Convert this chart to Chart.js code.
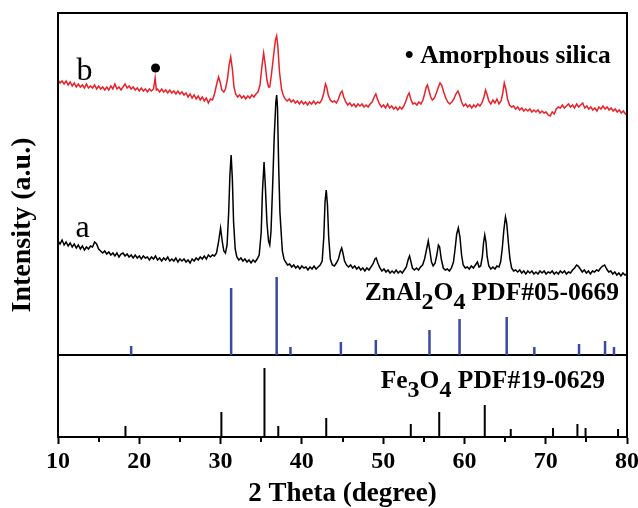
<!DOCTYPE html>
<html>
<head>
<meta charset="utf-8">
<script src="https://cdn.jsdelivr.net/npm/chart.js@4.4.1/dist/chart.umd.min.js"></script>
<style>
html,body{margin:0;padding:0;background:#fff;}
canvas{display:block;}
</style>
</head>
<body>
<canvas id="c" width="638" height="508"></canvas>
<script>
// ---------- DATA ----------
const xTicks = [10, 20, 30, 40, 50, 60, 70, 80];
const xMinorTicks = [15, 25, 35, 45, 55, 65, 75];

// Sample a (black) : [2theta, intensity (offset a.u.)]
const traceA = [
[10.0,196],[10.25,193],[10.5,197],[10.75,192],[11.0,195],[11.25,191],[11.5,194],[11.75,190],[12.0,193],[12.25,189],
[12.5,192],[12.75,188],[13.0,191],[13.25,187],[13.5,190],[13.75,188],[14.0,191],[14.25,190],[14.5,195],[14.75,193],
[15.0,188],[15.25,186],[15.5,184],[15.75,186],[16.0,183],[16.25,185],[16.5,182],[16.75,184],[17.0,181],[17.25,184],
[17.5,180],[17.75,183],[18.0,184],[18.25,181],[18.5,183],[18.75,180],[19.0,182],[19.25,179],[19.5,182],[19.75,179],
[20.0,181],[20.25,178],[20.5,181],[20.75,179],[21.0,180],[21.25,177],[21.5,180],[21.75,178],[22.0,181],[22.25,177],
[22.5,179],[22.75,176],[23.0,179],[23.25,177],[23.5,180],[23.75,176],[24.0,178],[24.25,176],[24.5,179],[24.75,175],
[25.0,178],[25.25,176],[25.5,178],[25.75,175],[26.0,177],[26.25,174],[26.5,178],[26.75,176],[27.0,179],[27.25,177],
[27.5,180],[27.75,178],[28.0,181],[28.25,178],[28.5,182],[28.75,180],[29.0,182],[29.25,181],[29.5,184],[29.75,195],
[30.0,209],[30.2,196],[30.4,186],[30.6,184],[30.8,192],[31.0,225],[31.15,262],[31.3,282],[31.45,258],[31.6,215],
[31.8,188],[32.0,180],[32.25,177],[32.5,179],[32.75,176],[33.0,178],[33.25,175],[33.5,177],[33.75,174],[34.0,177],
[34.25,175],[34.5,178],[34.75,182],[35.0,205],[35.15,245],[35.35,275],[35.5,252],[35.7,215],[35.9,196],[36.05,192],
[36.2,205],[36.4,250],[36.6,300],[36.8,335],[36.9,342],[37.0,330],[37.15,270],[37.3,225],[37.45,205],[37.6,186],
[37.8,178],[38.0,175],[38.25,172],[38.5,173],[38.75,170],[39.0,172],[39.25,169],[39.5,171],[39.75,168],[40.0,171],
[40.25,169],[40.5,170],[40.75,167],[41.0,170],[41.25,168],[41.5,171],[41.75,168],[42.0,170],[42.25,172],[42.5,176],
[42.7,200],[42.85,235],[43.0,247],[43.15,232],[43.3,200],[43.5,178],[43.75,172],[44.0,171],[44.25,174],[44.5,178],
[44.75,186],[44.9,189],[45.05,184],[45.25,176],[45.5,172],[45.75,170],[46.0,172],[46.25,169],[46.5,171],[46.75,168],
[47.0,170],[47.25,167],[47.5,169],[47.75,166],[48.0,169],[48.25,167],[48.5,170],[48.75,173],[49.0,178],[49.15,179],
[49.35,174],[49.6,169],[49.85,166],[50.1,168],[50.35,165],[50.6,167],[50.85,164],[51.1,166],[51.35,164],[51.6,167],
[51.85,164],[52.1,166],[52.35,164],[52.6,167],[52.85,170],[53.1,178],[53.25,181],[53.4,176],[53.6,169],[53.85,167],
[54.1,169],[54.35,167],[54.6,170],[54.85,172],[55.1,178],[55.35,188],[55.55,196],[55.75,186],[55.95,175],[56.15,171],
[56.4,174],[56.6,182],[56.8,192],[56.95,190],[57.15,178],[57.4,169],[57.65,167],[57.9,168],[58.15,166],[58.4,169],
[58.65,175],[58.85,188],[59.05,203],[59.25,209],[59.45,200],[59.65,182],[59.85,172],[60.1,169],[60.35,170],[60.6,168],
[60.85,171],[61.1,169],[61.35,172],[61.6,175],[61.8,170],[62.0,171],[62.2,180],[62.35,194],[62.5,202],[62.65,195],
[62.8,180],[63.0,171],[63.25,168],[63.5,170],[63.75,168],[64.0,171],[64.25,170],[64.45,175],[64.65,188],[64.85,207],
[65.05,220],[65.2,214],[65.4,195],[65.6,178],[65.8,169],[66.05,166],[66.3,167],[66.55,165],[66.8,167],[67.05,164],
[67.3,166],[67.55,163],[67.8,166],[68.05,164],[68.3,166],[68.55,163],[68.8,165],[69.05,163],[69.3,166],[69.55,164],
[69.8,166],[70.05,163],[70.3,165],[70.55,164],[70.8,166],[71.05,163],[71.3,165],[71.55,163],[71.8,166],[72.05,164],
[72.3,166],[72.55,163],[72.8,165],[73.05,164],[73.3,167],[73.55,169],[73.8,172],[74.0,171],[74.25,168],[74.5,165],
[74.75,167],[75.0,164],[75.25,166],[75.5,163],[75.75,166],[76.0,165],[76.25,167],[76.5,166],[76.75,169],[77.0,171],
[77.25,172],[77.5,168],[77.75,165],[78.0,166],[78.25,163],[78.5,165],[78.75,162],[79.0,164],[79.25,161],[79.5,164],
[79.75,162],[80.0,163]
];

// Sample b (red)
const traceB = [
[10.0,357],[10.25,354],[10.5,356],[10.75,353],[11.0,356],[11.25,352],[11.5,355],[11.75,351],[12.0,354],[12.25,350],
[12.5,353],[12.75,350],[13.0,352],[13.25,349],[13.5,353],[13.75,349],[14.0,351],[14.25,349],[14.5,352],[14.75,348],
[15.0,351],[15.25,348],[15.5,350],[15.75,347],[16.0,350],[16.25,347],[16.5,351],[16.75,348],[17.0,353],[17.25,348],
[17.5,350],[17.75,347],[18.0,350],[18.25,353],[18.5,349],[18.75,351],[19.0,348],[19.25,350],[19.5,347],[19.75,349],
[20.0,346],[20.25,349],[20.5,346],[20.75,348],[21.0,345],[21.25,348],[21.5,346],[21.75,348],[21.95,359],[22.1,347],
[22.25,348],[22.5,345],[22.75,348],[23.0,345],[23.25,347],[23.5,344],[23.75,347],[24.0,344],[24.25,346],[24.5,343],
[24.75,346],[25.0,343],[25.25,345],[25.5,342],[25.75,344],[26.0,340],[26.25,343],[26.5,339],[26.75,342],[27.0,338],
[27.25,341],[27.5,337],[27.75,340],[28.0,336],[28.25,339],[28.5,334],[28.75,338],[29.0,337],[29.25,343],[29.5,352],
[29.75,360],[29.95,355],[30.15,347],[30.4,345],[30.6,348],[30.85,358],[31.05,372],[31.25,380],[31.45,368],[31.65,350],
[31.85,343],[32.1,340],[32.35,342],[32.6,339],[32.85,341],[33.1,338],[33.35,341],[33.6,339],[33.85,342],[34.1,340],
[34.35,343],[34.6,345],[34.85,352],[35.05,368],[35.3,384],[35.5,372],[35.7,357],[35.9,350],[36.05,350],[36.25,362],
[36.5,380],[36.75,397],[36.9,401],[37.05,390],[37.25,365],[37.5,348],[37.7,342],[37.95,338],[38.2,336],[38.45,338],
[38.7,335],[38.95,337],[39.2,334],[39.45,336],[39.7,333],[39.95,336],[40.2,333],[40.45,335],[40.7,332],[40.95,335],
[41.2,333],[41.45,336],[41.7,333],[41.95,335],[42.2,334],[42.45,337],[42.7,344],[42.9,353],[43.05,350],[43.25,342],
[43.5,337],[43.75,335],[44.0,336],[44.25,334],[44.5,338],[44.75,344],[44.95,346],[45.15,340],[45.4,335],[45.65,332],
[45.9,334],[46.15,331],[46.4,333],[46.65,330],[46.9,333],[47.15,331],[47.4,333],[47.65,330],[47.9,332],[48.15,330],
[48.4,333],[48.65,335],[48.9,340],[49.1,343],[49.3,338],[49.55,333],[49.8,330],[50.05,332],[50.3,329],[50.55,333],
[50.8,329],[51.05,331],[51.3,328],[51.55,330],[51.8,327],[52.05,330],[52.3,328],[52.55,331],[52.8,336],[53.0,341],
[53.2,344],[53.4,338],[53.65,333],[53.9,334],[54.15,332],[54.4,335],[54.65,333],[54.9,337],[55.1,343],[55.3,350],
[55.45,352],[55.65,346],[55.85,340],[56.05,337],[56.3,339],[56.55,344],[56.8,350],[57.0,354],[57.2,352],[57.45,345],
[57.7,339],[57.95,335],[58.2,333],[58.45,335],[58.7,338],[58.95,343],[59.2,346],[59.4,342],[59.65,335],[59.9,331],
[60.15,333],[60.4,330],[60.65,332],[60.9,329],[61.15,332],[61.4,330],[61.65,333],[61.9,331],[62.15,334],[62.4,340],
[62.6,347],[62.8,342],[63.0,336],[63.25,333],[63.5,337],[63.75,334],[64.0,338],[64.25,333],[64.5,336],[64.7,343],
[64.9,354],[65.1,348],[65.3,338],[65.55,332],[65.8,330],[66.05,331],[66.3,328],[66.55,330],[66.8,327],[67.05,329],
[67.3,326],[67.55,328],[67.8,326],[68.05,328],[68.3,325],[68.55,327],[68.8,325],[69.05,327],[69.3,324],[69.55,326],
[69.8,324],[70.05,325],[70.3,322],[70.55,321],[70.8,325],[71.05,323],[71.3,328],[71.55,330],[71.8,329],[72.05,332],
[72.3,329],[72.55,331],[72.8,333],[73.05,330],[73.3,332],[73.55,329],[73.8,333],[74.05,330],[74.3,332],[74.55,334],
[74.8,329],[75.05,331],[75.3,328],[75.55,330],[75.8,327],[76.05,329],[76.3,326],[76.55,330],[76.8,328],[77.05,331],
[77.3,328],[77.55,330],[77.8,327],[78.05,329],[78.3,326],[78.55,328],[78.8,325],[79.05,327],[79.3,324],[79.55,326],
[79.8,323],[80.0,324]
];

// ZnAl2O4 PDF#05-0669 reference lines
const znPos = [19.0, 31.3, 36.9, 38.6, 44.8, 49.1, 55.7, 59.4, 65.2, 68.6, 74.1, 77.3, 78.4];
const znHeight = [9, 67, 78, 8, 13, 15, 25, 36, 38, 8, 11, 14, 8];
const znBaseline = 82;

// Fe3O4 PDF#19-0629 reference lines
const fePos = [18.3, 30.1, 35.4, 37.1, 43.0, 53.4, 56.9, 62.5, 65.7, 70.9, 73.9, 74.9, 78.9];
const feHeight = [11, 25, 69, 11, 19, 13, 25, 32, 8, 9, 13, 9, 8];
const feBaseline = 0;

// amorphous silica marker
const silicaMark = [[22.0, 369]];

// ---------- BUILD ----------
const toXY = arr => arr.map(p => ({x: p[0], y: p[1]}));
function sticks(pos, h, base) {
  const out = [];
  pos.forEach((p, i) => {
    out.push({x: p, y: base});
    out.push({x: p, y: base + h[i]});
    out.push({x: p, y: null});
  });
  return out;
}
const FONT = "'Liberation Serif','Times New Roman',serif";

const annotations = [
  {parts: [{t: 'b'}], x: 12.28, y: 357, size: 32, weight: 'normal'},
  {parts: [{t: 'a'}], x: 12.15, y: 200, size: 32, weight: 'normal'},
  {parts: [{t: '\u2022 Amorphous silica'}], x: 52.67, y: 374, size: 25.5, weight: 'bold'},
  {parts: [{t: 'ZnAl'}, {t: '2', sub: true}, {t: 'O'}, {t: '4', sub: true}, {t: ' PDF#05-0669'}], x: 47.75, y: 137, size: 25.5, weight: 'bold'},
  {parts: [{t: 'Fe'}, {t: '3', sub: true}, {t: 'O'}, {t: '4', sub: true}, {t: ' PDF#19-0629'}], x: 49.7, y: 49, size: 25.5, weight: 'bold'}
];

const decor = {
  id: 'decor',
  afterDraw(chart) {
    const {ctx, chartArea: a, scales: {x, y}} = chart;
    ctx.save();
    // frame
    ctx.strokeStyle = '#000';
    ctx.lineWidth = 2;
    ctx.strokeRect(a.left, a.top, a.right - a.left, a.bottom - a.top);
    // minor ticks
    ctx.beginPath();
    xMinorTicks.forEach(v => {
      const px = Math.round(x.getPixelForValue(v));
      ctx.moveTo(px, a.bottom);
      ctx.lineTo(px, a.bottom + 5);
    });
    ctx.stroke();
    // text annotations
    ctx.fillStyle = '#000';
    ctx.textBaseline = 'alphabetic';
    ctx.textAlign = 'left';
    annotations.forEach(an => {
      let px = x.getPixelForValue(an.x);
      const py = y.getPixelForValue(an.y);
      an.parts.forEach(pt => {
        const sz = pt.sub ? an.size - 1.5 : an.size;
        ctx.font = an.weight + ' ' + sz + 'px ' + FONT;
        ctx.fillText(pt.t, px, py + (pt.sub ? 9 : 0));
        px += ctx.measureText(pt.t).width;
      });
    });
    ctx.restore();
  }
};

new Chart(document.getElementById('c'), {
  type: 'line',
  data: {
    datasets: [
      {label: 'b', data: toXY(traceB), borderColor: '#e8212a', borderWidth: 1.5, pointRadius: 0, tension: 0},
      {label: 'a', data: toXY(traceA), borderColor: '#000', borderWidth: 1.5, pointRadius: 0, tension: 0},
      {label: 'ZnAl2O4', data: sticks(znPos, znHeight, znBaseline), borderColor: '#3a4aa3', borderWidth: 2.5, pointRadius: 0, spanGaps: false},
      {label: 'Fe3O4', data: sticks(fePos, feHeight, feBaseline), borderColor: '#000', borderWidth: 2, pointRadius: 0, spanGaps: false},
      {label: 'divider', data: [{x: 10, y: znBaseline}, {x: 80, y: znBaseline}], borderColor: '#000', borderWidth: 2, pointRadius: 0},
      {label: 'silica', data: toXY(silicaMark), showLine: false, pointRadius: 4.5, pointBackgroundColor: '#000', pointBorderColor: '#000', borderWidth: 0}
    ]
  },
  options: {
    responsive: false,
    animation: false,
    layout: {padding: {top: 13, right: 11, left: 0, bottom: 0}},
    plugins: {legend: {display: false}, tooltip: {enabled: false}},
    scales: {
      x: {
        type: 'linear', min: 10, max: 80,
        afterBuildTicks: s => { s.ticks = xTicks.map(v => ({value: v})); },
        ticks: {color: '#000', padding: 3, maxRotation: 0, autoSkip: false,
                font: {family: FONT, size: 24, weight: 'bold'}},
        grid: {display: true, drawOnChartArea: false, drawTicks: true, tickLength: 7, tickColor: '#000', tickWidth: 2},
        border: {display: true, color: '#000', width: 2},
        title: {display: true, text: '2 Theta (degree)', color: '#000',
                font: {family: FONT, size: 27, weight: 'bold', lineHeight: 1}, padding: {top: 0, bottom: 0}},
        afterFit: s => { s.height = 71; s.paddingLeft = 0; s.paddingRight = 0; }
      },
      y: {
        type: 'linear', min: 0, max: 424,
        ticks: {display: false},
        grid: {display: false},
        border: {display: true, color: '#000', width: 2},
        title: {display: true, text: 'Intensity (a.u.)', color: '#000',
                font: {family: FONT, size: 28, weight: 'bold', lineHeight: 1}, padding: {top: 9, bottom: 0}},
        afterFit: s => { s.width = 58; s.paddingTop = 0; s.paddingBottom = 0; }
      }
    }
  },
  plugins: [decor]
});
</script>
</body>
</html>
